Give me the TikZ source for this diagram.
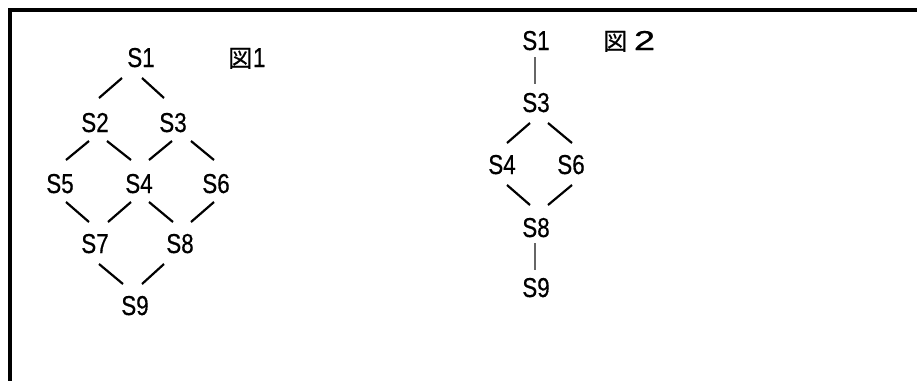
\documentclass[tikz,border=0pt]{standalone}
\usepackage{fontspec}
\setmainfont{Liberation Sans}[FakeStretch=0.82,FakeBold=0.5]
\newfontfamily\jpfont{Noto Sans CJK JP}[FakeBold=0.6]
\usetikzlibrary{calc}
\begin{document}
\begin{tikzpicture}[x=0.75pt,y=-0.75pt,
  state/.style={anchor=base,inner sep=0pt,font=\fontsize{20.5}{24}\selectfont},
  caption/.style={anchor=base west,inner sep=0pt,font=\fontsize{20.5}{24}\selectfont},
  link/.style={line width=1.65pt},
  vlink/.style={line width=1.4pt,draw=black!60},
  frame/.style={line width=2.4pt}]
\useasboundingbox (0,0) rectangle (917,380);
% open frame: left and top sides
\draw[frame] (10,382) -- (10,10) -- (920,10);

% ---- Lattice 1 ----
\node[state] (a1) at (141,67) {S1};
\node[state] (a2) at (95,132) {S2};
\node[state] (a3) at (173,132) {S3};
\node[state] (a5) at (60,193) {S5};
\node[state] (a4) at (139,193) {S4};
\node[state] (a6) at (216,193) {S6};
\node[state] (a7) at (95,253) {S7};
\node[state] (a8) at (180,253) {S8};
\node[state] (a9) at (135,315) {S9};
\node[caption] (cap1) at (228,67) {{\jpfont\fontsize{18}{20}\selectfont 図}\hspace{0.5pt}1};

\draw[link] ($(a1.base)+(-19,11)$) -- ($(a2.base)+(4,-34)$);
\draw[link] ($(a1.base)+(1,11)$)   -- ($(a3.base)+(-9,-34)$);
\draw[link] ($(a2.base)+(-6,9)$)   -- ($(a5.base)+(6,-33)$);
\draw[link] ($(a2.base)+(12,9)$)   -- ($(a4.base)+(-8,-33)$);
\draw[link] ($(a3.base)+(-1,9)$)   -- ($(a4.base)+(10,-33)$);
\draw[link] ($(a3.base)+(18,9)$)   -- ($(a6.base)+(-2,-33)$);
\draw[link] ($(a5.base)+(6,9)$)    -- ($(a7.base)+(-6,-31)$);
\draw[link] ($(a4.base)+(-8,9)$)   -- ($(a7.base)+(13,-31)$);
\draw[link] ($(a4.base)+(10,9)$)   -- ($(a8.base)+(-7,-31)$);
\draw[link] ($(a6.base)+(-2,9)$)   -- ($(a8.base)+(11,-31)$);
\draw[link] ($(a7.base)+(4,11)$)   -- ($(a9.base)+(-12,-31)$);
\draw[link] ($(a8.base)+(-16,11)$) -- ($(a9.base)+(7,-31)$);

% ---- Lattice 2 ----
\node[state] (b1) at (536,50) {S1};
\node[state] (b3) at (536,112) {S3};
\node[state] (b4) at (502,174) {S4};
\node[state] (b6) at (571,174) {S6};
\node[state] (b8) at (536,237) {S8};
\node[state] (b9) at (536,297) {S9};
\node[caption] (cap2) at (603,50) {{\jpfont\fontsize{18}{20}\selectfont 図}\hspace{5pt}\scalebox{1.7}[1]{2}};

\draw[vlink] ($(b1.base)+(-1,7)$)  -- ($(b3.base)+(-1,-28)$);
\draw[link]  ($(b3.base)+(-6,11)$) -- ($(b4.base)+(5,-31)$);
\draw[link]  ($(b3.base)+(12,11)$) -- ($(b6.base)+(1,-31)$);
\draw[link]  ($(b4.base)+(5,11)$)  -- ($(b8.base)+(-6,-32)$);
\draw[link]  ($(b6.base)+(1,11)$)  -- ($(b8.base)+(12,-32)$);
\draw[vlink] ($(b8.base)+(-1,6)$)  -- ($(b9.base)+(-1,-27)$);
\end{tikzpicture}
\end{document}
